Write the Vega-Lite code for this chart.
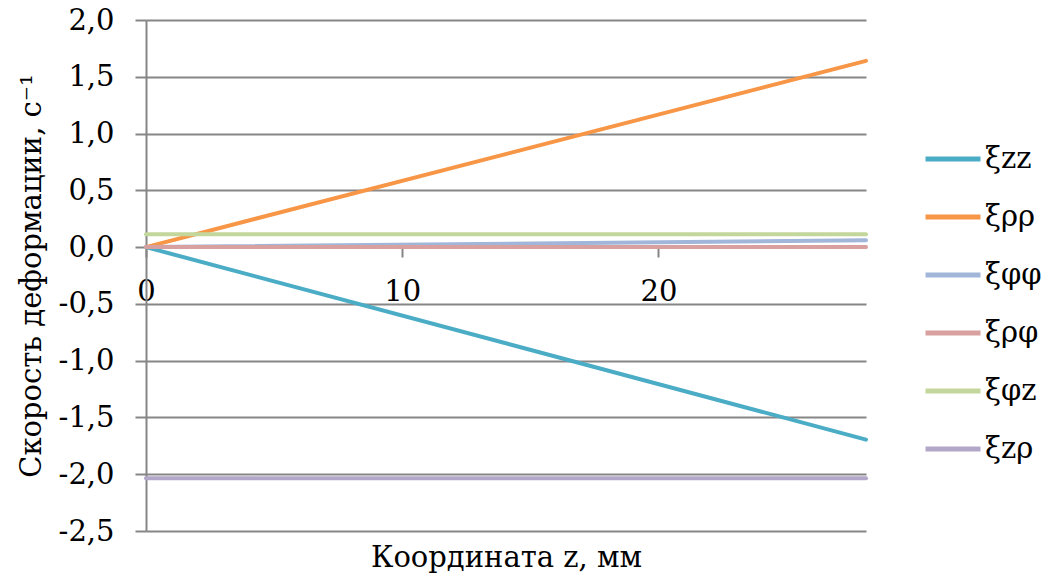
{
  "$schema": "https://vega.github.io/schema/vega-lite/v6.json",
  "width": 720,
  "height": 511,
  "autosize": {"type": "none"},
  "padding": {"left": 146, "top": 20, "right": 178, "bottom": 49},
  "background": "white",
  "data": {
    "values": [
      {"z": 0, "v": 0, "s": "ξzz"},
      {"z": 28.1, "v": -1.695, "s": "ξzz"},
      {"z": 0, "v": 0, "s": "ξρρ"},
      {"z": 28.1, "v": 1.64, "s": "ξρρ"},
      {"z": 0, "v": 0, "s": "ξφφ"},
      {"z": 28.1, "v": 0.06, "s": "ξφφ"},
      {"z": 0, "v": 0, "s": "ξρφ"},
      {"z": 28.1, "v": 0.0, "s": "ξρφ"},
      {"z": 0, "v": 0.113, "s": "ξφz"},
      {"z": 28.1, "v": 0.113, "s": "ξφz"},
      {"z": 0, "v": -2.035, "s": "ξzρ"},
      {"z": 28.1, "v": -2.035, "s": "ξzρ"}
    ]
  },
  "mark": {"type": "line", "strokeWidth": 4, "strokeCap": "round"},
  "encoding": {
    "x": {
      "field": "z",
      "type": "quantitative",
      "scale": {"domain": [0, 28.1], "nice": false, "zero": false},
      "axis": {
        "values": [0, 10, 20],
        "grid": false,
        "offset": -284,
        "labelFlush": false,
        "domainColor": "#868686",
        "domainWidth": 2,
        "tickColor": "#868686",
        "tickWidth": 2,
        "tickSize": 10,
        "labelPadding": 20,
        "labelFont": "DejaVu Serif",
        "labelFontSize": 29,
        "labelColor": "black",
        "title": "Координата z, мм",
        "titleFont": "DejaVu Serif",
        "titleFontSize": 29,
        "titleFontWeight": "normal",
        "titleColor": "black",
        "titleY": 296,
        "titleBaseline": "top"
      }
    },
    "y": {
      "field": "v",
      "type": "quantitative",
      "scale": {"domain": [-2.5, 2.0], "nice": false, "zero": false},
      "axis": {
        "values": [-2.5, -2.0, -1.5, -1.0, -0.5, 0, 0.5, 1.0, 1.5, 2.0],
        "labelExpr": "replace(replace(format(datum.value, '.1f'), '.', ','), '\u2212', '-')",
        "grid": true,
        "gridColor": "#868686",
        "gridWidth": 2,
        "domainColor": "#868686",
        "domainWidth": 2,
        "tickColor": "#868686",
        "tickWidth": 2,
        "tickSize": 11,
        "labelPadding": 21,
        "labelFont": "DejaVu Serif",
        "labelFontSize": 29,
        "labelColor": "black",
        "title": "Скорость деформации, с⁻¹",
        "titleFont": "DejaVu Serif",
        "titleFontSize": 29,
        "titleFontWeight": "normal",
        "titleColor": "black",
        "titlePadding": 12
      }
    },
    "color": {
      "field": "s",
      "type": "nominal",
      "sort": ["ξzz", "ξρρ", "ξφφ", "ξρφ", "ξφz", "ξzρ"],
      "scale": {
        "domain": ["ξzz", "ξρρ", "ξφφ", "ξρφ", "ξφz", "ξzρ"],
        "range": ["#4BACC6", "#F79646", "#A2B6D9", "#D9A0A0", "#C3D69B", "#B3A7C9"]
      },
      "legend": {
        "title": null,
        "orient": "none",
        "legendX": 777,
        "legendY": 109,
        "symbolType": "stroke",
        "symbolSize": 3025,
        "symbolStrokeWidth": 5,
        "labelFont": "DejaVu Serif",
        "labelFontSize": 29,
        "labelColor": "black",
        "labelOffset": 2,
        "rowPadding": 13
      }
    }
  },
  "config": {"view": {"stroke": null}}
}
